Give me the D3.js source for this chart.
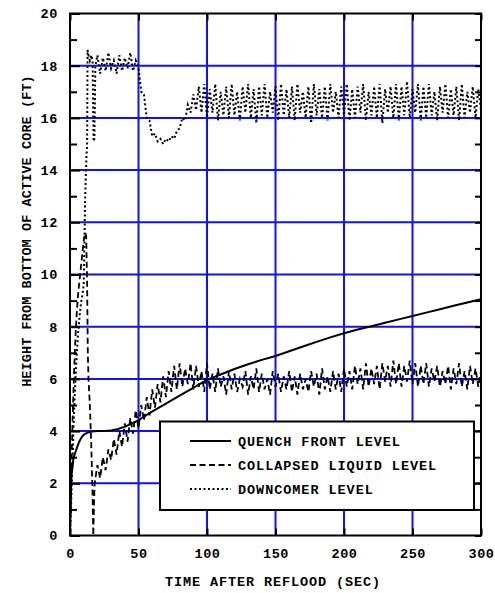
<!DOCTYPE html>
<html>
<head>
<meta charset="utf-8">
<script src="https://cdn.jsdelivr.net/npm/d3@7"></script>
<style>
  html, body { margin: 0; padding: 0; background: #fff; }
  text { font-family: "Liberation Mono", "Courier New", monospace; font-weight: bold; fill: #000; }
</style>
</head>
<body>
<svg id="chart" width="495" height="593"></svg>
<script>
// Reflood transient: quench front, collapsed liquid and downcomer levels (ft) vs time (s)

const xTicks = [0, 50, 100, 150, 200, 250, 300];
const yTicks = [0, 2, 4, 6, 8, 10, 12, 14, 16, 18, 20];
const yMinorTicks = [1, 3, 5, 7, 9, 11, 13, 15, 17, 19];

const legendLabels = ["QUENCH FRONT LEVEL", "COLLAPSED LIQUID LEVEL", "DOWNCOMER LEVEL"];

// Quench front level
const quenchTime = [0, 0.5, 1, 1.5, 2, 2.5, 3, 4, 5, 6, 7, 8, 9, 10, 12, 14, 16, 20, 25, 30, 35, 40, 45, 50,
  58, 70, 80, 90, 100, 110, 120, 130, 140, 150, 160, 170, 180, 190, 200, 210, 220, 230, 240, 250,
  260, 270, 280, 290, 300];
const quenchLevel = [0, 1.2, 2.3, 2.5, 2.7, 2.95, 3.05, 3.2, 3.35, 3.5, 3.62, 3.72, 3.8, 3.86, 3.92, 3.96, 3.98, 4.0, 4.0, 4.02, 4.08, 4.17, 4.28, 4.42,
  4.69, 5.05, 5.36, 5.66, 5.96, 6.17, 6.38, 6.56, 6.73, 6.88, 7.06, 7.24, 7.42, 7.59, 7.75, 7.89, 8.02, 8.15, 8.28, 8.41,
  8.54, 8.67, 8.8, 8.93, 9.05];

// Collapsed liquid level: initial surge, then the 2-second record from 18 s on
const collapsedEarlyTime = [0, 1, 2, 3, 4, 5, 6, 7, 8, 9, 10, 11, 11.8, 12.5, 13, 13.5, 14.5, 15.5, 16.5, 17, 17.5];
const collapsedEarlyLevel = [0, 2.5, 4.6, 6.3, 7.6, 8.6, 9.3, 9.8, 10.3, 10.8, 11.3, 11.6, 11.5, 9.6, 7.0, 6.0, 5.0, 3.5, 1.5, 0, 1.2];
const collapsedStart = 18;
const collapsedLevel = [
  2.0, 2.7, 2.2, 3.0, 2.5, 3.3, 2.9, 3.7, 3.1, 4.0,
  3.4, 4.3, 3.6, 4.5, 3.9, 4.8, 4.1, 5.0, 4.4, 5.3,
  4.6, 5.6, 4.9, 5.8, 5.1, 6.1, 5.3, 6.3, 5.5, 6.5,
  5.6, 6.6, 5.7, 6.4, 5.8, 6.6, 5.6, 6.5, 5.7, 6.3,
  5.5, 6.6, 5.6, 6.2, 5.5, 6.4, 5.7, 6.1, 5.4, 6.3,
  5.6, 6.2, 5.5, 6.0, 5.7, 6.3, 5.4, 6.1, 5.6, 6.4,
  5.5, 6.2, 5.6, 6.0, 5.4, 6.3, 5.7, 6.2, 5.5, 6.1,
  5.6, 6.3, 5.5, 6.1, 5.4, 6.2, 5.6, 6.0, 5.5, 6.3,
  5.7, 6.2, 5.4, 6.4, 5.6, 6.1, 5.5, 6.3, 5.6, 6.2,
  5.5, 6.4, 5.7, 6.3, 5.6, 6.5, 5.8, 6.4, 5.6, 6.6,
  5.7, 6.4, 5.8, 6.5, 5.6, 6.6, 5.9, 6.5, 5.7, 6.7,
  5.8, 6.6, 5.7, 6.5, 5.9, 6.7, 5.8, 6.6, 5.7, 6.5,
  5.8, 6.6, 5.7, 6.4, 5.9, 6.5, 5.7, 6.3, 5.8, 6.5,
  5.6, 6.4, 5.8, 6.6, 5.7, 6.3, 5.6, 6.5, 5.8, 6.4,
  5.7, 6.3];

// Downcomer level: fill-up, then the 2-second record from 20 s on
const downcomerEarlyTime = [0, 1, 2, 3, 4, 5, 6, 7, 8, 9, 10, 10.5, 11, 11.5, 12, 12.5, 12.8, 13.5, 14.5, 15.5, 16.5, 17.2, 17.8, 18.5];
const downcomerEarlyLevel = [0, 1.5, 3.2, 4.8, 6.0, 7.0, 7.8, 8.4, 8.9, 9.2, 9.6, 11.0, 12.8, 13.7, 14.5, 15.0, 18.6, 18.4, 18.2, 18.4, 18.2, 15.1, 15.2, 18.0];
const downcomerStart = 20;
const downcomerLevel = [
  18.4, 17.7, 18.3, 17.8, 18.5, 17.9, 18.2, 17.7, 18.4, 17.8,
  18.3, 17.9, 18.5, 17.8, 18.2,
  17.9, 17.0, 16.9, 16.0, 15.9, 15.3, 15.4, 15.1, 15.2, 15.0,
  15.2, 15.1, 15.3, 15.2, 15.5, 15.6, 16.0, 15.9, 16.5, 16.2,
  16.9, 16.3, 17.2, 16.2,
  17.3, 16.0, 17.1, 16.2, 17.3, 15.9, 17.0, 16.1, 17.2, 16.0,
  17.3, 16.1, 17.0, 15.9, 17.2, 16.2, 17.3, 16.0, 17.1, 15.8,
  17.2, 16.1, 17.3, 16.0, 17.0, 16.2, 17.2, 15.9, 17.3, 16.1,
  17.1, 16.0, 17.2, 15.9, 17.3, 16.2, 17.0, 16.0, 17.2, 15.8,
  17.3, 16.1, 17.1, 16.0, 17.2, 15.9, 17.3, 16.2, 17.0, 16.0,
  17.2, 16.1, 17.3, 15.9, 17.1, 16.0, 17.2, 16.2, 17.3, 15.9,
  17.0, 16.1, 17.2, 16.0, 17.3, 15.8, 17.1, 16.2, 17.2, 16.0,
  17.3, 15.9, 17.2, 16.1, 17.4, 16.0, 17.1, 16.2, 17.3, 15.9,
  17.2, 16.0, 17.3, 16.1, 17.0, 15.9, 17.2, 16.2, 17.3, 16.0,
  17.1, 16.1, 17.2, 15.9, 17.3, 16.0, 17.0, 16.2, 17.2, 16.0,
  17.1, 16.3];

// ---- assemble series ----
const zipSeries = (times, vals) => times.map((t, i) => [t, vals[i]]);
const recordSeries = (start, vals) => vals.map((v, i) => [start + 2 * i, v]);

const quench = zipSeries(quenchTime, quenchLevel);
const collapsed = zipSeries(collapsedEarlyTime, collapsedEarlyLevel).concat(recordSeries(collapsedStart, collapsedLevel));
const downcomer = zipSeries(downcomerEarlyTime, downcomerEarlyLevel).concat(recordSeries(downcomerStart, downcomerLevel));

// ---- layout ----
const svg = d3.select("#chart");
const plotLeft = 70, plotRight = 481, plotTop = 13.5, plotBottom = 535.5;

const x = d3.scaleLinear().domain([0, 300]).range([plotLeft, plotRight]);
const y = d3.scaleLinear().domain([0, 20]).range([plotBottom, plotTop]);

const gridColor = "#1010ff";

// grid
const grid = svg.append("g");
grid.selectAll("line.gx").data(xTicks.filter(d => d > 0 && d < 300)).join("line")
  .attr("x1", d => x(d)).attr("x2", d => x(d)).attr("y1", plotTop).attr("y2", plotBottom)
  .attr("stroke", gridColor).attr("stroke-width", 2);
grid.selectAll("line.gy").data(yTicks.filter(d => d > 0 && d < 20)).join("line")
  .attr("x1", plotLeft).attr("x2", plotRight).attr("y1", d => y(d)).attr("y2", d => y(d))
  .attr("stroke", gridColor).attr("stroke-width", 2);

// data lines
const line = d3.line().x(d => x(d[0])).y(d => y(d[1]));
const plot = svg.append("g");
plot.append("path").datum(downcomer).attr("d", line)
  .attr("fill", "none").attr("stroke", "#000").attr("stroke-width", 2)
  .attr("stroke-dasharray", "2,2.5");
plot.append("path").datum(collapsed).attr("d", line)
  .attr("fill", "none").attr("stroke", "#000").attr("stroke-width", 1.8)
  .attr("stroke-dasharray", "6,3.5");
plot.append("path").datum(quench).attr("d", line)
  .attr("fill", "none").attr("stroke", "#000").attr("stroke-width", 2);

// axes
const axisFont = g => g.selectAll("text").style("font-size", "13.5px").style("letter-spacing", "0.6px");

const yAxis = svg.append("g").attr("transform", `translate(${plotLeft},0)`)
  .call(d3.axisLeft(y).tickValues(yTicks).tickFormat(d3.format("d")).tickSizeInner(-10).tickSizeOuter(0).tickPadding(12));
yAxis.call(axisFont);
svg.append("g").attr("transform", `translate(${plotLeft},0)`)
  .call(d3.axisLeft(y).tickValues(yMinorTicks).tickFormat("").tickSizeInner(-7).tickSizeOuter(0));

svg.append("g").attr("transform", `translate(${plotRight},0)`)
  .call(d3.axisRight(y).tickValues(yTicks.concat(yMinorTicks)).tickFormat("").tickSizeInner(-6).tickSizeOuter(0));

const xAxis = svg.append("g").attr("transform", `translate(0,${plotBottom})`)
  .call(d3.axisBottom(x).tickValues(xTicks).tickFormat(d3.format("d")).tickSizeInner(-7).tickSizeOuter(0).tickPadding(13));
xAxis.call(axisFont);
svg.append("g").attr("transform", `translate(0,${plotTop})`)
  .call(d3.axisTop(x).tickValues(xTicks).tickFormat("").tickSizeInner(-7).tickSizeOuter(0));

svg.selectAll(".domain").remove();
svg.selectAll(".tick line").attr("stroke", "#000").attr("stroke-width", 2);

// frame
svg.append("rect").attr("x", plotLeft).attr("y", plotTop).attr("width", plotRight - plotLeft).attr("height", plotBottom - plotTop)
  .attr("fill", "none").attr("stroke", "#000").attr("stroke-width", 2);

// axis titles
svg.append("text").attr("x", 273).attr("y", 586).attr("text-anchor", "middle")
  .style("font-size", "13.5px").style("letter-spacing", "0.9px")
  .text("TIME AFTER REFLOOD (SEC)");
svg.append("text").attr("transform", "translate(31,231) rotate(-90)").attr("text-anchor", "middle")
  .style("font-size", "13.5px").style("letter-spacing", "0.1px")
  .text("HEIGHT FROM BOTTOM OF ACTIVE CORE (FT)");

// legend
const legend = svg.append("g");
legend.append("rect").attr("x", 160).attr("y", 421.5).attr("width", 314).attr("height", 88.5)
  .attr("fill", "#fff").attr("stroke", "#000").attr("stroke-width", 2);
const dashes = [null, "6,3.5", "2,2.5"];
legendLabels.forEach((label, i) => {
  const ly = 441 + i * 24;
  legend.append("line").attr("x1", 190).attr("x2", 231).attr("y1", ly).attr("y2", ly)
    .attr("stroke", "#000").attr("stroke-width", 2)
    .attr("stroke-dasharray", dashes[i]);
  legend.append("text").attr("x", 238).attr("y", ly).attr("dy", "0.35em")
    .style("font-size", "13.5px").style("letter-spacing", "0.95px")
    .text(label);
});
</script>
</body>
</html>
